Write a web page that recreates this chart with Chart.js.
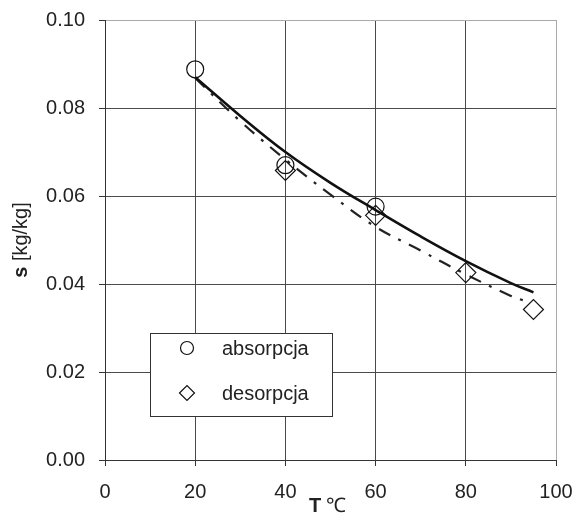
<!DOCTYPE html>
<html>
<head>
<meta charset="utf-8">
<script src="https://cdn.jsdelivr.net/npm/chart.js@4/dist/chart.umd.min.js"></script>
<style>
  html, body { margin: 0; padding: 0; background: #fff; }
  #wrap { width: 578px; height: 513px; position: relative; }
</style>
</head>
<body>
<div id="wrap"><canvas id="chart" width="578" height="513"></canvas></div>
<script>
// measured points
const absT = [20, 40, 60];
const absS = [0.0888, 0.0670, 0.0576];
const desT = [40, 60, 80, 95];
const desS = [0.0658, 0.0556, 0.0426, 0.0342];

// fitted curves
const fitAbsT = [20, 30, 40, 50, 60, 70, 80, 90, 95];
const fitAbsS = [0.0870, 0.0782, 0.0700, 0.0630, 0.0568, 0.0508, 0.0452, 0.0402, 0.0381];
const fitDesT = [20, 30, 40, 50, 60, 70, 80, 90, 93];
const fitDesS = [0.0868, 0.0770, 0.0683, 0.0603, 0.0530, 0.0476, 0.0422, 0.0373, 0.0362];

const xTicks = [0, 20, 40, 60, 80, 100];
const yTicks = [0.00, 0.02, 0.04, 0.06, 0.08, 0.10];
const legendNames = ['absorpcja', 'desorpcja'];

const FONT = "'Liberation Sans', Arial, sans-serif";
const INK = '#222';

function pts(xs, ys) {
  return xs.map((x, i) => ({ x: x, y: ys[i] }));
}

// legend box inside the plot + axis titles with mixed weights
const decorPlugin = {
  id: 'decor',
  afterDraw(chart) {
    const c = chart.ctx;
    const a = chart.chartArea;
    c.save();
    // legend
    const lx = a.left + 45, ly = a.top + 313;
    c.fillStyle = '#fff';
    c.fillRect(lx, ly, 182, 83);
    c.strokeStyle = '#333';
    c.lineWidth = 1;
    c.strokeRect(lx + 0.5, ly + 0.5, 182, 83);
    c.font = '20px ' + FONT;
    c.fillStyle = INK;
    c.textBaseline = 'middle';
    c.textAlign = 'left';
    const rows = [
      { style: 'circle', r: 6.5, y: ly + 15 },
      { style: 'rectRot', r: 7.5, y: ly + 60 }
    ];
    rows.forEach((row, i) => {
      c.strokeStyle = '#111';
      c.lineWidth = 1.2;
      c.fillStyle = '#fff';
      Chart.helpers.drawPoint(c, { pointStyle: row.style, radius: row.r, borderWidth: 1.2 }, lx + 37, row.y);
      c.fillStyle = INK;
      c.fillText(legendNames[i], lx + 72, row.y + 1);
    });

    // x title: bold T + degree sign
    c.textBaseline = 'alphabetic';
    c.font = 'bold 20px ' + FONT;
    c.fillText('T', 309, 512);
    c.font = '20px ' + FONT;
    c.fillText('\u2103', 326, 512);

    // y title rotated
    c.translate(27, 240);
    c.rotate(-Math.PI / 2);
    c.textAlign = 'left';
    c.font = 'bold 20px ' + FONT;
    const sW = c.measureText('s').width;
    c.font = '20px ' + FONT;
    const rest = ' [kg/kg]';
    const rW = c.measureText(rest).width;
    const start = -(sW + rW) / 2;
    c.font = 'bold 20px ' + FONT;
    c.fillText('s', start, 0);
    c.font = '20px ' + FONT;
    c.fillText(rest, start + sW, 0);
    c.restore();
  }
};

function noPad(s) {
  s.paddingLeft = 0;
  s.paddingRight = 0;
  s.paddingTop = 0;
  s.paddingBottom = 0;
}

new Chart(document.getElementById('chart'), {
  type: 'scatter',
  data: {
    datasets: [
      {
        label: 'fit absorpcja',
        data: pts(fitAbsT, fitAbsS),
        showLine: true,
        borderColor: '#111',
        borderWidth: 2.6,
        pointRadius: 0,
        tension: 0.4,
        order: 3
      },
      {
        label: 'fit desorpcja',
        data: pts(fitDesT, fitDesS),
        showLine: true,
        borderColor: '#222',
        borderWidth: 2.2,
        borderDash: [13, 9, 3, 9],
        pointRadius: 0,
        tension: 0.4,
        order: 4
      },
      {
        label: legendNames[0],
        data: pts(absT, absS),
        pointStyle: 'circle',
        pointRadius: 8.5,
        pointBorderColor: '#111',
        pointBackgroundColor: 'rgba(255,255,255,0)',
        pointBorderWidth: 1.2,
        order: 1
      },
      {
        label: legendNames[1],
        data: pts(desT, desS),
        pointStyle: 'rectRot',
        pointRadius: 10,
        pointBorderColor: '#111',
        pointBackgroundColor: 'rgba(255,255,255,0)',
        pointBorderWidth: 1.2,
        order: 2
      }
    ]
  },
  options: {
    responsive: false,
    animation: false,
    devicePixelRatio: 1,
    layout: { padding: { top: 20, right: 22, left: 0, bottom: 0 } },
    plugins: {
      legend: { display: false },
      tooltip: { enabled: false }
    },
    scales: {
      x: {
        type: 'linear',
        min: 0,
        max: 100,
        afterBuildTicks: (s) => { s.ticks = xTicks.map(v => ({ value: v })); },
        afterFit: (s) => { s.height = 53; noPad(s); },
        ticks: {
          color: INK,
          font: { family: FONT, size: 20 },
          padding: 14,
          maxRotation: 0
        },
        grid: {
          color: (ctx) => ctx.tick && ctx.tick.value === 100 ? '#aaa' : '#4a4a4a',
          tickColor: '#333',
          tickLength: 6,
          lineWidth: 1
        },
        border: { color: '#333', width: 1 }
      },
      y: {
        type: 'linear',
        min: 0,
        max: 0.1,
        afterBuildTicks: (s) => { s.ticks = yTicks.map(v => ({ value: v })); },
        afterFit: (s) => { s.width = 105; noPad(s); },
        ticks: {
          color: INK,
          font: { family: FONT, size: 20 },
          padding: 14,
          callback: (v) => v.toFixed(2)
        },
        grid: {
          color: (ctx) => ctx.tick && Math.abs(ctx.tick.value - 0.1) < 1e-9 ? '#aaa' : '#4a4a4a',
          tickColor: '#333',
          tickLength: 6,
          lineWidth: 1
        },
        border: { color: '#333', width: 1 }
      }
    }
  },
  plugins: [decorPlugin]
});
</script>
</body>
</html>
